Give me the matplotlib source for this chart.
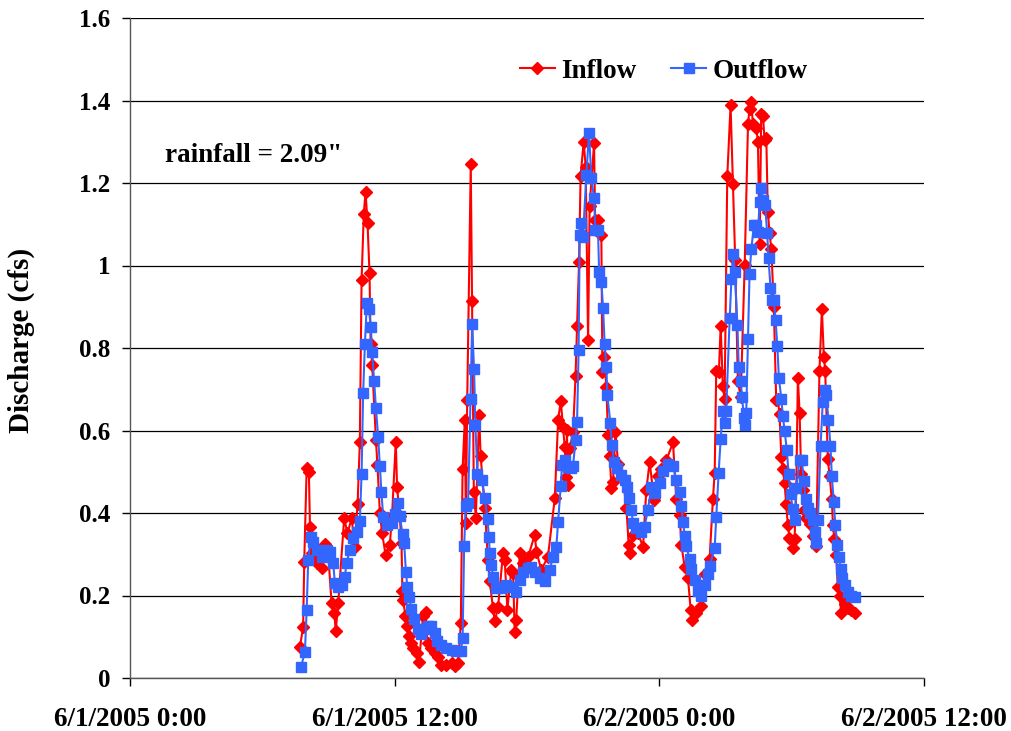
import matplotlib
matplotlib.use("Agg")
import matplotlib.pyplot as plt

# hours since 6/1/2005 0:00
inflow_hours = [
    7.70, 7.85, 7.90, 8.01, 8.11, 8.16, 8.23, 8.35, 8.46, 8.69, 8.84, 8.98, 9.14, 9.26, 9.33, 9.44,
    9.71, 9.86, 10.05, 10.19, 10.32, 10.42, 10.50, 10.60, 10.68, 10.77, 10.86, 10.91, 10.98, 11.15,
    11.22, 11.33, 11.43, 11.59, 11.78, 11.88, 12.05, 12.11, 12.23, 12.31, 12.35, 12.38, 12.49, 12.58,
    12.64, 12.73, 12.84, 12.99, 13.11, 13.29, 13.40, 13.49, 13.67, 13.82, 13.97, 14.12, 14.35, 14.58,
    14.73, 14.88, 15.00, 15.08, 15.18, 15.23, 15.29, 15.45, 15.51, 15.59, 15.68, 15.83, 15.90, 16.09,
    16.23, 16.31, 16.46, 16.54, 16.69, 16.91, 16.99, 17.11, 17.29, 17.37, 17.44, 17.51, 17.67, 17.82,
    18.05, 18.35, 18.43, 18.65, 18.95, 19.26, 19.41, 19.53, 19.63, 19.71, 19.77, 19.81, 19.86, 19.94,
    20.09, 20.20, 20.27, 20.36, 20.43, 20.57, 20.66, 20.77, 20.84, 21.04, 21.09, 21.22, 21.37, 21.42,
    21.49, 21.60, 21.67, 21.75, 21.83, 21.90, 22.01, 22.13, 22.35, 22.51, 22.61, 22.66, 22.80, 23.03,
    23.26, 23.41, 23.56, 23.76, 23.94, 24.09, 24.32, 24.62, 24.77, 24.92, 25.00, 25.15, 25.30, 25.42,
    25.48, 25.68, 25.90, 26.05, 26.28, 26.43, 26.51, 26.58, 26.70, 26.78, 26.88, 26.96, 27.08, 27.23,
    27.34, 27.44, 27.56, 27.69, 27.87, 28.02, 28.09, 28.17, 28.24, 28.40, 28.47, 28.55, 28.62, 28.70,
    28.77, 28.85, 28.92, 29.00, 29.08, 29.19, 29.30, 29.37, 29.45, 29.53, 29.60, 29.68, 29.75, 29.83,
    29.90, 30.05, 30.13, 30.21, 30.28, 30.36, 30.43, 30.51, 30.58, 30.66, 30.81, 30.96, 31.11, 31.26,
    31.37, 31.46, 31.52, 31.64, 31.72, 31.82, 31.87, 31.94, 32.02, 32.09, 32.17, 32.25, 32.40, 32.55,
    32.70, 32.85,
]
inflow_cfs = [
    0.074, 0.124, 0.282, 0.510, 0.500, 0.367, 0.302, 0.294, 0.278, 0.266, 0.326, 0.306, 0.181, 0.157, 0.115, 0.181,
    0.387, 0.351, 0.387, 0.318, 0.423, 0.571, 0.965, 1.125, 1.179, 1.102, 0.981, 0.810, 0.760, 0.577,
    0.516, 0.399, 0.351, 0.298, 0.323, 0.393, 0.573, 0.462, 0.393, 0.327, 0.212, 0.188, 0.151, 0.126,
    0.102, 0.085, 0.073, 0.061, 0.040, 0.151, 0.159, 0.085, 0.073, 0.061, 0.052, 0.032, 0.032, 0.036,
    0.028, 0.036, 0.134, 0.507, 0.625, 0.376, 0.675, 1.245, 0.913, 0.450, 0.389, 0.638, 0.537, 0.411,
    0.286, 0.234, 0.169, 0.137, 0.173, 0.302, 0.286, 0.165, 0.262, 0.254, 0.112, 0.141, 0.302, 0.278,
    0.294, 0.347, 0.306, 0.262, 0.294, 0.436, 0.625, 0.672, 0.609, 0.561, 0.488, 0.601, 0.468, 0.557,
    0.597, 0.731, 0.853, 1.009, 1.217, 1.300, 1.240, 0.819, 1.144, 1.296, 1.110, 1.110, 1.074, 0.743,
    0.777, 0.706, 0.589, 0.537, 0.460, 0.476, 0.597, 0.520, 0.484, 0.411, 0.322, 0.302, 0.347, 0.351,
    0.318, 0.456, 0.524, 0.432, 0.490, 0.507, 0.528, 0.571, 0.434, 0.396, 0.323, 0.268, 0.242, 0.166,
    0.140, 0.157, 0.174, 0.251, 0.289, 0.434, 0.498, 0.745, 0.741, 0.854, 0.707, 0.677, 1.216, 1.389,
    1.197, 1.014, 0.720, 0.681, 1.001, 1.342, 1.380, 1.397, 1.342, 1.334, 1.299, 1.052, 1.368, 1.363,
    1.304, 1.308, 1.129, 1.078, 1.039, 0.899, 0.673, 0.677, 0.639, 0.536, 0.507, 0.472, 0.421, 0.370,
    0.340, 0.315, 0.336, 0.460, 0.728, 0.643, 0.494, 0.455, 0.408, 0.387, 0.374, 0.345, 0.319, 0.745,
    0.894, 0.779, 0.745, 0.532, 0.489, 0.434, 0.370, 0.336, 0.298, 0.221, 0.200, 0.157, 0.179, 0.170,
    0.166, 0.157,
]

outflow_hours = [
    7.75, 7.93, 8.01, 8.08, 8.20, 8.31, 8.46, 8.69, 8.91, 9.06, 9.21, 9.29, 9.44, 9.59, 9.74, 9.82,
    9.97, 10.12, 10.27, 10.42, 10.50, 10.57, 10.65, 10.74, 10.83, 10.92, 10.98, 11.07, 11.15, 11.25,
    11.33, 11.40, 11.48, 11.63, 11.86, 12.01, 12.16, 12.23, 12.36, 12.43, 12.51, 12.58, 12.66, 12.76,
    12.88, 13.04, 13.19, 13.37, 13.52, 13.67, 13.82, 13.94, 14.12, 14.35, 14.58, 14.80, 15.00, 15.08,
    15.15, 15.22, 15.33, 15.44, 15.51, 15.60, 15.66, 15.75, 15.94, 16.09, 16.21, 16.27, 16.31, 16.39,
    16.46, 16.61, 16.84, 17.07, 17.29, 17.52, 17.67, 17.82, 18.05, 18.20, 18.35, 18.58, 18.80, 19.03,
    19.18, 19.33, 19.41, 19.53, 19.59, 19.71, 19.86, 19.98, 20.09, 20.20, 20.27, 20.34, 20.39, 20.43,
    20.54, 20.69, 20.81, 20.92, 21.04, 21.10, 21.22, 21.27, 21.37, 21.45, 21.52, 21.60, 21.64, 21.78,
    21.85, 21.94, 22.10, 22.25, 22.43, 22.55, 22.62, 22.73, 22.81, 22.96, 23.15, 23.33, 23.48, 23.64,
    23.79, 24.01, 24.16, 24.38, 24.61, 24.77, 24.92, 25.00, 25.07, 25.15, 25.22, 25.37, 25.45, 25.60,
    25.75, 25.90, 26.05, 26.20, 26.28, 26.51, 26.58, 26.69, 26.78, 26.88, 26.99, 27.03, 27.19, 27.27,
    27.34, 27.42, 27.54, 27.60, 27.69, 27.75, 27.84, 27.87, 27.94, 28.02, 28.09, 28.17, 28.29, 28.40,
    28.47, 28.55, 28.62, 28.70, 28.80, 28.89, 28.95, 29.04, 29.10, 29.19, 29.27, 29.35, 29.42, 29.53,
    29.60, 29.68, 29.78, 29.86, 29.95, 30.05, 30.13, 30.21, 30.36, 30.46, 30.55, 30.63, 30.73, 30.85,
    30.96, 31.04, 31.11, 31.19, 31.31, 31.41, 31.49, 31.56, 31.67, 31.76, 31.82, 31.91, 31.98, 32.07,
    32.14, 32.22, 32.30, 32.40, 32.55, 32.70, 32.85,
]
outflow_cfs = [
    0.027, 0.062, 0.165, 0.286, 0.343, 0.330, 0.310, 0.294, 0.310, 0.305, 0.280, 0.230, 0.220, 0.225, 0.245, 0.280,
    0.310, 0.340, 0.355, 0.380, 0.495, 0.690, 0.810, 0.910, 0.895, 0.850, 0.790, 0.720, 0.655, 0.585,
    0.514, 0.450, 0.390, 0.370, 0.376, 0.397, 0.425, 0.393, 0.348, 0.327, 0.257, 0.220, 0.196, 0.167,
    0.143, 0.118, 0.106, 0.118, 0.126, 0.126, 0.110, 0.089, 0.081, 0.073, 0.069, 0.065, 0.065, 0.098,
    0.319, 0.417, 0.425, 0.677, 0.857, 0.749, 0.614, 0.495, 0.480, 0.436, 0.385, 0.343, 0.304, 0.274,
    0.246, 0.217, 0.217, 0.225, 0.221, 0.209, 0.238, 0.258, 0.266, 0.270, 0.258, 0.242, 0.234, 0.262,
    0.294, 0.318, 0.379, 0.465, 0.516, 0.528, 0.512, 0.510, 0.515, 0.577, 0.621, 0.795, 1.074, 1.104,
    1.070, 1.219, 1.322, 1.211, 1.163, 1.086, 1.086, 0.985, 0.961, 0.896, 0.810, 0.755, 0.686, 0.619,
    0.565, 0.524, 0.508, 0.492, 0.480, 0.464, 0.436, 0.407, 0.375, 0.363, 0.355, 0.367, 0.407, 0.464,
    0.448, 0.473, 0.502, 0.519, 0.515, 0.481, 0.451, 0.417, 0.379, 0.345, 0.319, 0.289, 0.264, 0.238,
    0.212, 0.200, 0.225, 0.251, 0.272, 0.315, 0.391, 0.498, 0.579, 0.647, 0.617, 0.647, 0.873, 0.967,
    1.028, 0.984, 0.856, 0.754, 0.720, 0.681, 0.630, 0.613, 0.643, 0.822, 0.980, 1.039, 1.099, 1.099,
    1.082, 1.154, 1.187, 1.159, 1.146, 1.078, 1.018, 0.946, 0.916, 0.916, 0.869, 0.805, 0.728, 0.677,
    0.634, 0.600, 0.553, 0.494, 0.447, 0.409, 0.383, 0.460, 0.528, 0.528, 0.477, 0.434, 0.413, 0.400,
    0.383, 0.353, 0.328, 0.383, 0.562, 0.669, 0.698, 0.686, 0.626, 0.562, 0.490, 0.426, 0.370, 0.323,
    0.293, 0.264, 0.242, 0.225, 0.208, 0.200, 0.196,
]

x_tick_hours = [0, 12, 24, 36]
x_tick_labels = ["6/1/2005 0:00", "6/1/2005 12:00", "6/2/2005 0:00", "6/2/2005 12:00"]
y_ticks = [0, 0.2, 0.4, 0.6, 0.8, 1.0, 1.2, 1.4, 1.6]
y_tick_labels = ["0", "0.2", "0.4", "0.6", "0.8", "1", "1.2", "1.4", "1.6"]

plt.rcParams["font.family"] = ["Liberation Serif", "DejaVu Serif"]
plt.rcParams["font.weight"] = "bold"

fig = plt.figure(figsize=(10.12, 7.31), dpi=100)
ax = fig.add_axes([130 / 1012, 1 - 678 / 731, (924 - 130) / 1012, (678 - 18) / 731])

ax.plot(inflow_hours, inflow_cfs, color="#FF0000", lw=1.5, marker="D", ms=6.3,
        mec="#FF0000", mfc="#FF0000", label="Inflow", zorder=3)
ax.plot(outflow_hours, outflow_cfs, color="#3366FF", lw=1.5, marker="s", ms=7.3,
        mec="#3366FF", mfc="#3366FF", label="Outflow", zorder=4)

ax.set_xlim(0, 36)
ax.set_ylim(0, 1.6)
ax.set_xticks(x_tick_hours)
ax.set_xticklabels(x_tick_labels, fontsize=19.5, fontweight="bold")
ax.set_yticks(y_ticks)
ax.set_yticklabels(y_tick_labels, fontsize=18, fontweight="bold")
ax.tick_params(axis="both", direction="out", length=6, width=1, color="black")
ax.tick_params(axis="x", pad=15)
ax.tick_params(axis="y", pad=8)

ax.yaxis.grid(True, color="#000000", lw=0.9, zorder=0)
ax.set_axisbelow(True)
for s in ["top", "right"]:
    ax.spines[s].set_visible(False)
ax.spines["left"].set_linewidth(1.0)
ax.spines["bottom"].set_linewidth(1.0)
ax.spines["left"].set_color("#555555")
ax.spines["bottom"].set_color("#555555")

ax.set_ylabel("Discharge (cfs)", fontsize=21, fontweight="bold", labelpad=32)
ax.yaxis.label.set_y(0.512)

ax.text(0.044, 0.792, "rainfall = 2.09\"", transform=ax.transAxes, fontsize=19.5,
        fontweight="bold", va="center", ha="left")

leg = ax.legend(loc="upper center", bbox_to_anchor=(0.672, 0.975), ncol=2, frameon=False,
                prop={"size": 19.5, "weight": "bold"}, handlelength=1.3, columnspacing=1.3,
                handletextpad=0.22)

fig.savefig("out.png", dpi=100)
